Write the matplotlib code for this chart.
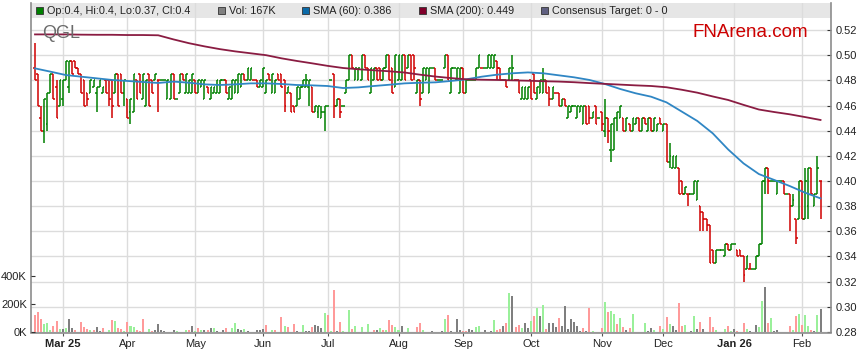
import numpy as np
import pandas as pd
import matplotlib
matplotlib.use('Agg')
import matplotlib.pyplot as plt
from matplotlib.patches import Rectangle
from matplotlib.collections import LineCollection

plt.rcParams['font.family'] = ['Liberation Sans', 'DejaVu Sans']

W, H = 859, 363
start = '2025-02-18'

# daily OHLC (one value per weekday)
opens = [
    .49, .485, .45, .44, .445, .47, .485, .475, .46, .465,
    .48, .475, .495, .495, .49, .485, .48, .47, .47, .475,
    .47, .475, .47, .48, .48, .48, .47, .485, .485, .47,
    .465, .455, .455, .48, .485, .465, .46, .485, .48, .48,
    .48, .48, .48, .465, .465, .485, .465, .47, .485, .47,
    .47, .47, .48, .47, .475, .465, .475, .465, .47, .47,
    .47, .48, .48, .465, .465, .47, .47, .475, .485, .48,
    .48, .48, .48, .475, .475, .47, .485, .47, .47, .485,
    .485, .48, .47, .47, .46, .46, .465, .475, .475, .475,
    .475, .455, .455, .45, .455, .46, .48, .485, .46, .465,
    .46, .47, .48, .50, .48, .48, .48, .50, .49, .47,
    .48, .49, .49, .48, .49, .50, .49, .475, .48, .48,
    .50, .49, .50, .50, .47, .48, .47, .48, .47, .49,
    .49, .48, .48, .49, .50, .47, .49, .48, .47, .49,
    .47, .48, .48, .48, .49, .49, .49, .49, .49, .49,
    .495, .49, .48, .48, .48, .48, .48, .48, .465, .465,
    .465, .48, .485, .465, .47, .47, .48, .475, .465, .47,
    .47, .46, .465, .45, .455, .46, .45, .455, .445, .46,
    .46, .45, .46, .45, .455, .44, .45, .425, .425, .45,
    .45, .45, .44, .445, .44, .445, .45, .44, .45, .44,
    .45, .44, .44, .45, .44, .445, .415, .41, .41, .41,
    .40, .39, .39, .39, .39, .385, .38, .375, .37, .365,
    .345, .335, .345, .345, .34, .35, .345, .35, .345, .345,
    .34, .33, .33, .33, .33, .34, .35, .40, .41, .40,
    .40, .39, .40, .40, .39, .39, .38, .37, .37, .40,
    .37, .38, .41, .38, .39, .40]
highs = [
    .51, .485, .46, .465, .47, .485, .485, .48, .48, .48,
    .495, .495, .495, .495, .49, .485, .48, .47, .48, .48,
    .475, .48, .475, .48, .48, .48, .485, .485, .485, .48,
    .465, .465, .485, .48, .485, .485, .48, .485, .48, .485,
    .48, .48, .48, .48, .485, .485, .465, .485, .485, .485,
    .48, .485, .48, .48, .48, .48, .475, .475, .475, .48,
    .48, .48, .48, .475, .48, .48, .485, .485, .485, .49,
    .49, .48, .48, .48, .49, .48, .485, .485, .48, .485,
    .485, .48, .475, .47, .46, .475, .475, .48, .485, .48,
    .475, .46, .46, .46, .46, .46, .48, .485, .465, .465,
    .46, .48, .50, .50, .49, .49, .50, .50, .49, .49,
    .49, .49, .49, .49, .50, .50, .49, .50, .50, .50,
    .50, .50, .50, .50, .48, .48, .49, .49, .49, .49,
    .49, .48, .48, .50, .50, .49, .49, .49, .49, .49,
    .48, .48, .48, .49, .50, .49, .49, .50, .50, .50,
    .495, .49, .48, .48, .49, .50, .48, .48, .475, .475,
    .475, .48, .485, .475, .48, .49, .48, .475, .475, .47,
    .47, .465, .465, .46, .46, .46, .46, .46, .46, .46,
    .46, .455, .46, .45, .455, .465, .45, .445, .45, .455,
    .46, .45, .45, .445, .45, .45, .45, .45, .45, .45,
    .45, .45, .445, .45, .445, .445, .43, .42, .42, .41,
    .40, .395, .39, .39, .40, .40, .38, .375, .37, .365,
    .345, .345, .345, .345, .35, .35, .35, .35, .345, .345,
    .34, .34, .335, .33, .34, .35, .40, .41, .41, .40,
    .40, .40, .40, .40, .39, .39, .39, .37, .40, .40,
    .41, .41, .41, .39, .42, .40]
lows = [
    .48, .46, .44, .43, .44, .47, .465, .45, .46, .46,
    .48, .47, .485, .49, .485, .47, .46, .46, .47, .475,
    .455, .475, .47, .47, .46, .45, .47, .46, .47, .46,
    .45, .445, .455, .465, .47, .465, .46, .46, .47, .48,
    .455, .48, .48, .465, .465, .465, .465, .47, .48, .47,
    .47, .47, .47, .47, .475, .465, .47, .465, .47, .47,
    .47, .48, .47, .465, .465, .47, .47, .475, .48, .48,
    .48, .48, .475, .475, .475, .47, .48, .47, .47, .48,
    .475, .455, .47, .455, .455, .46, .465, .475, .475, .46,
    .455, .455, .45, .45, .44, .46, .48, .45, .46, .45,
    .46, .47, .48, .49, .48, .48, .48, .49, .48, .47,
    .48, .48, .48, .48, .49, .48, .47, .475, .48, .48,
    .48, .49, .48, .48, .47, .46, .47, .48, .47, .49,
    .48, .48, .48, .49, .48, .47, .49, .48, .47, .47,
    .47, .48, .48, .48, .49, .49, .49, .49, .49, .49,
    .48, .48, .48, .475, .48, .48, .48, .47, .465, .465,
    .465, .465, .47, .465, .47, .47, .47, .46, .465, .47,
    .46, .46, .46, .45, .455, .46, .45, .455, .445, .445,
    .445, .45, .445, .45, .44, .435, .43, .415, .425, .44,
    .45, .44, .44, .44, .44, .445, .44, .44, .445, .44,
    .44, .44, .44, .445, .44, .415, .41, .41, .41, .39,
    .39, .39, .38, .39, .39, .385, .36, .36, .36, .335,
    .335, .335, .345, .345, .34, .345, .345, .35, .34, .34,
    .32, .33, .33, .33, .33, .34, .35, .39, .39, .40,
    .40, .39, .40, .39, .39, .36, .38, .35, .37, .37,
    .37, .37, .39, .38, .39, .37]
closes = [
    .48, .46, .44, .465, .47, .485, .465, .45, .48, .48,
    .495, .495, .485, .49, .485, .47, .46, .465, .48, .48,
    .475, .48, .475, .47, .465, .46, .485, .46, .47, .48,
    .45, .465, .485, .465, .47, .485, .48, .46, .47, .485,
    .48, .48, .48, .48, .485, .465, .465, .485, .48, .485,
    .48, .485, .47, .48, .48, .48, .47, .475, .475, .48,
    .48, .48, .47, .475, .48, .48, .485, .485, .48, .49,
    .49, .48, .475, .48, .49, .48, .48, .485, .48, .48,
    .475, .46, .475, .455, .455, .475, .475, .48, .48, .48,
    .455, .46, .46, .455, .46, .46, .48, .46, .465, .455,
    .46, .48, .50, .49, .49, .49, .50, .49, .48, .49,
    .49, .48, .48, .49, .50, .48, .47, .50, .50, .50,
    .48, .50, .48, .49, .48, .465, .49, .49, .49, .49,
    .48, .48, .48, .50, .48, .49, .49, .49, .49, .47,
    .48, .48, .48, .49, .50, .49, .49, .50, .50, .50,
    .49, .48, .48, .475, .49, .49, .48, .47, .475, .475,
    .475, .465, .47, .475, .48, .48, .47, .465, .475, .47,
    .46, .465, .46, .46, .46, .46, .46, .46, .46, .445,
    .45, .455, .445, .45, .445, .45, .44, .445, .45, .455,
    .46, .44, .45, .44, .45, .45, .44, .45, .445, .45,
    .44, .45, .445, .445, .445, .415, .42, .42, .42, .39,
    .39, .395, .39, .39, .40, .40, .375, .37, .365, .335,
    .335, .345, .345, .345, .35, .345, .35, .35, .34, .34,
    .325, .34, .33, .33, .34, .35, .40, .41, .40, .40,
    .40, .40, .40, .39, .39, .38, .385, .355, .40, .37,
    .40, .41, .39, .39, .41, .40]

# daily volume in thousands, with colour code r=down g=up k=unchanged
volumes = [
    122, 146, 94, 59, 66, 12, 45, 80, 24, 21,
    31, 94, 31, 12, 0, 73, 38, 24, 12, 16,
    38, 7, 31, 0, 16, 87, 80, 31, 24, 9,
    73, 45, 38, 16, 9, 94, 0, 24, 9, 16,
    59, 16, 9, 0, 0, 16, 9, 0, 0, 16,
    12, 45, 9, 31, 16, 16, 16, 31, 31, 9,
    0, 14, 31, 0, 31, 62, 21, 14, 21, 7,
    0, 0, 14, 14, 21, 50, 0, 14, 14, 0,
    105, 43, 38, 0, 57, 7, 0, 50, 7, 7,
    36, 50, 43, 26, 133, 121, 7, 300, 7, 71,
    7, 0, 157, 21, 43, 0, 36, 0, 57, 0,
    14, 14, 29, 14, 14, 86, 50, 33, 14, 43,
    0, 29, 0, 0, 38, 64, 14, 0, 0, 7,
    0, 0, 7, 93, 121, 7, 0, 93, 14, 7,
    7, 21, 14, 36, 43, 0, 14, 0, 7, 86,
    14, 21, 43, 64, 276, 257, 36, 50, 29, 64,
    31, 79, 114, 174, 114, 190, 21, 64, 64, 36,
    100, 43, 186, 21, 93, 71, 43, 7, 29, 7,
    174, 7, 0, 0, 29, 214, 143, 150, 129, 57,
    100, 36, 14, 29, 129, 0, 0, 0, 64, 7,
    29, 14, 0, 43, 24, 107, 57, 43, 14, 207,
    43, 50, 0, 7, 114, 21, 71, 21, 0, 107,
    36, 14, 0, 0, 21, 43, 7, 21, 7, 0,
    64, 21, 7, 0, 50, 36, 221, 321, 64, 100,
    7, 14, 0, 0, 0, 43, 14, 114, 129, 48,
    121, 43, 14, 7, 121, 167]
vol_dirs = ("rrrgggrrgk" "gkkrkrrrgr" "kkrkgrgrrg" "rggrrrkgrk" "kkkkkkgkkg"
            "rkgrgkrkgk" "kkrkggkkgk" "kkkkkrkgrk" "rgrkrkkgkk" "rkkkgrgrkr"
            "gkgrgkgkgk" "rkgrgrrggk" "kgkkrrgkkk" "kkkgrkkkkr" "rkkggkkkkg"
            "rrkrgkrrgk" "kgrgkgrkkk" "rkkkkkkkrk" "rgkkrgrggr" "grkrgkkkgk"
            "kgkrgrgkkr" "rgkkgkrkkr" "rgkkgrgkrk" "rgkkkggkrg" "kkkkkrgrgr"
            "ggrkgk")

# moving averages, sampled every 5th bar
sma_step = 5
sma60 = [.4895, .4869, .4842, .4829, .4816, .4803, .4795, .4787, .4779, .479,
         .4781, .4768, .4763, .4768, .4776, .4776, .4771, .4763, .476, .4755,
         .4739, .4744, .4755, .4765, .4776, .4781, .4784, .4795, .4808, .4829,
         .4845, .4856, .4863, .4856, .484, .4824, .4803, .4771, .4731, .4697,
         .467, .4625, .4551, .4477, .4379, .4251, .414, .4055, .4008, .396,
         .3907, .3862]
sma200 = [.5165, .5165, .5165, .5163, .5162, .5162, .516, .516, .5158, .5125,
          .5095, .507, .5048, .503, .5015, .5, .4975, .4954, .4935, .4915,
          .4898, .4888, .488, .4872, .4862, .4845, .483, .4818, .4808, .4805,
          .4803, .48, .4797, .4793, .479, .4785, .4778, .4772, .4766, .476,
          .4755, .4745, .4725, .4702, .4672, .4644, .4605, .4568, .4548, .453,
          .4508, .4485]

price_ticks = [0.28, 0.30, 0.32, 0.34, 0.36, 0.38, 0.40, 0.42, 0.44, 0.46, 0.48, 0.50, 0.52]

dates = pd.bdate_range(start, periods=len(closes))
n = len(closes)
xs = np.arange(n)

fig = plt.figure(figsize=(W / 100, H / 100), dpi=100)
fig.patch.set_facecolor('white')

def fx(px):
    return px / W

def fy(py):
    return 1 - py / H

ax = fig.add_axes([fx(31), fy(332.5), fx(831) - fx(31), fy(3) - fy(332.5)])
ax.set_facecolor('none')
axv = ax.twinx()
axv.set_facecolor('none')

# price bars
segs, cols = [], []
prev = closes[0]
for i in range(n):
    o, h, l, c = opens[i], highs[i], lows[i], closes[i]
    if c > o:
        col = '#008000'
    elif c < o:
        col = '#d00000'
    else:
        col = '#008000' if c >= prev else '#d00000'
    prev = c
    segs += [[(i, l), (i, h)], [(i - 0.55, o), (i, o)], [(i, c), (i + 0.55, c)]]
    cols += [col] * 3
ax.add_collection(LineCollection(segs, colors=cols, linewidths=1.1,
                                 capstyle='butt', zorder=3))

sx = np.arange(0, n, sma_step)
ax.plot(sx, sma60, color='#2f86c4', lw=1.3, zorder=4)
ax.plot(sx, sma200, color='#8a1c42', lw=1.3, zorder=4)

# volume
vcol = {'r': '#ff9a9a', 'g': '#9af09a', 'k': '#7f7f7f'}
axv.bar(xs, volumes, width=0.65, color=[vcol[d] for d in vol_dirs], zorder=2)

ax.set_xlim(-1.3, 258.4)
ax.set_ylim(0.2796, 0.54146)
axv.set_ylim(-3.6, 2350)

# month ticks
mt, ml = [], []
for i in range(1, n):
    if dates[i].month != dates[i - 1].month:
        mt.append(i)
        first = len(mt) == 1 or dates[i].month == 1
        ml.append((dates[i].strftime('%b %y') if first else dates[i].strftime('%b'), first))
ax.set_xticks(mt)
ax.set_xticklabels([m[0] for m in ml], fontsize=8, color='#222222')
for lab, (_, bold) in zip(ax.get_xticklabels(), ml):
    if bold:
        lab.set_fontweight('bold')
ax.tick_params(axis='x', direction='out', length=2.5, width=0.8, color='#555555', pad=2)

ax.yaxis.tick_right()
ax.set_yticks(price_ticks)
ax.set_yticklabels(['%.2f' % p for p in price_ticks], fontsize=8, color='#222222')
ax.tick_params(axis='y', direction='in', length=3, width=0.8, color='#333333', pad=3)

axv.yaxis.tick_left()
axv.set_yticks([0, 200, 400])
axv.set_yticklabels(['0K', '200K', '400K'], fontsize=8, color='#222222')
axv.tick_params(axis='y', direction='in', length=3, width=0.8, color='#333333', pad=3)

ax.grid(True, color='#dcdcdc', lw=1.0)
ax.set_axisbelow(True)

for s in ['top']:
    ax.spines[s].set_visible(False)
for s in axv.spines:
    axv.spines[s].set_visible(False)
ax.spines['left'].set_color('#8c8c8c')
ax.spines['right'].set_color('#8c8c8c')
ax.spines['bottom'].set_color('#8c8c8c')
ax.spines['left'].set_linewidth(1.2)
ax.spines['right'].set_linewidth(1.2)
ax.spines['bottom'].set_linewidth(1.2)

# legend band
ax.add_patch(Rectangle((fx(31), fy(17.5)), fx(831) - fx(31), fy(3) - fy(17.5),
                       transform=fig.transFigure, facecolor='#e6e6e6',
                       edgecolor='none', zorder=0.3, clip_on=False))
items = [(36, '#008000', 'Op:0.4, Hi:0.4, Lo:0.37, Cl:0.4'),
         (218, '#808080', 'Vol: 167K'),
         (302, '#0a6aa8', 'SMA (60): 0.386'),
         (419, '#80002a', 'SMA (200): 0.449'),
         (541, '#5f5f80', 'Consensus Target: 0 - 0')]
for px, c, t in items:
    fig.patches.append(Rectangle((fx(px), fy(14)), fx(7), 7 / H,
                                 transform=fig.transFigure, facecolor=c,
                                 edgecolor='#333333', lw=0.6, zorder=5))
    fig.text(fx(px + 11), fy(14), t, fontsize=7.8, color='#222222', va='baseline')

fig.text(fx(42.5), fy(38.5), 'QGL', fontsize=13, color='#6a6a6a', va='baseline')
fig.text(fx(693), fy(36.7), 'FNArena.com', fontsize=13.5, color='#cc0000', va='baseline')

fig.savefig('out.png', dpi=100)
